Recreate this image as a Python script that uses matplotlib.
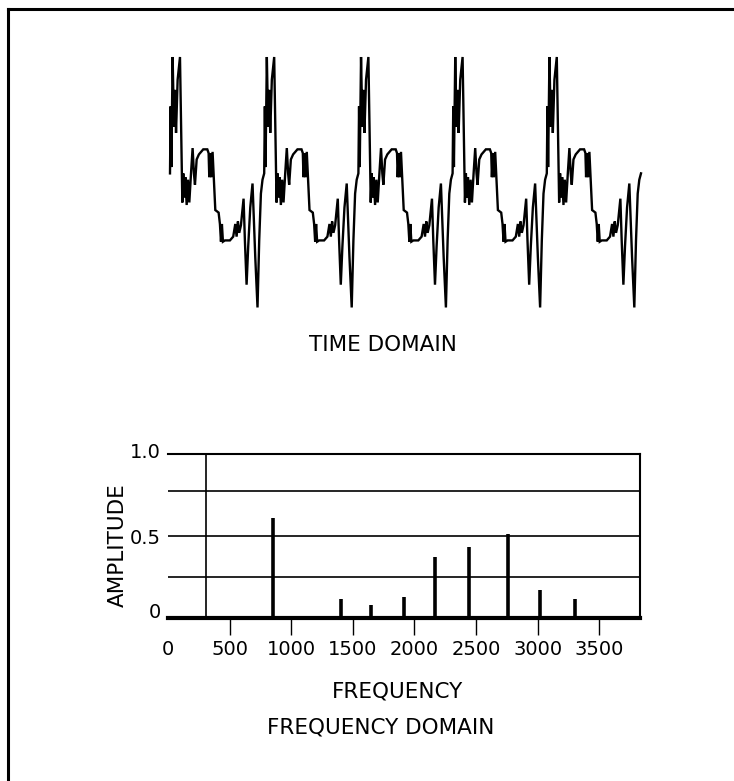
import numpy as np
import matplotlib
matplotlib.use("Agg")
import matplotlib.pyplot as plt
from matplotlib.lines import Line2D
from matplotlib.transforms import ScaledTranslation

# One cycle of the periodic waveform: phase (fraction of a cycle) and amplitude
cycle_phase = [0.000, 0.007, 0.014, 0.028, 0.042, 0.053, 0.064, 0.081, 0.106, 0.117,
               0.131, 0.141, 0.152, 0.163, 0.177, 0.191, 0.205, 0.223, 0.240, 0.254,
               0.265, 0.283, 0.307, 0.353, 0.396, 0.410, 0.417, 0.428, 0.438, 0.452,
               0.466, 0.481, 0.516, 0.530, 0.541, 0.551, 0.562, 0.583, 0.636, 0.671,
               0.693, 0.707, 0.721, 0.735, 0.753, 0.781, 0.795, 0.813, 0.830, 0.852,
               0.876, 0.890, 0.905, 0.929, 0.947, 0.965, 0.982]
cycle_amp = [0.08, 0.61, 0.13, 1.00, 0.45, 0.74, 0.40, 0.82, 1.00, 0.48,
             -0.15, 0.08, -0.11, 0.05, -0.17, 0.03, -0.15, 0.08, 0.28, 0.08,
             -0.01, 0.19, 0.23, 0.27, 0.27, 0.24, 0.05, 0.24, 0.05, 0.25,
             0.03, -0.21, -0.23, -0.32, -0.46, -0.32, -0.46, -0.45, -0.45, -0.42,
             -0.32, -0.42, -0.30, -0.39, -0.33, -0.12, -0.45, -0.80, -0.50, -0.19,
             0.00, -0.29, -0.58, -0.98, -0.45, -0.08, 0.03]
n_cycles = 5

# Spectrum: fundamental plus harmonic lines
fundamental_freq = 305
fundamental_amp = 1.0
harmonic_freqs = [854, 1400, 1651, 1914, 2165, 2443, 2755, 3020, 3303]
harmonic_amps = [0.61, 0.115, 0.08, 0.128, 0.375, 0.432, 0.51, 0.172, 0.115]

freq_ticks = [0, 500, 1000, 1500, 2000, 2500, 3000, 3500]
amp_ticks = [0, 0.5, 1.0]
amp_tick_labels = ["0", "0.5", "1.0"]
amp_grid = [0.25, 0.5, 0.775]

W, H = 734, 781
fig = plt.figure(figsize=(W / 100, H / 100), dpi=100)
fs_tick = 14
fs_label = 15.5

# ---- time domain trace ----
t = np.concatenate([np.array(cycle_phase) + k for k in range(n_cycles)] + [[n_cycles]])
y = np.concatenate([cycle_amp] * n_cycles + [[cycle_amp[0]]])
ax_t = fig.add_axes([170 / W, 1 - 310 / H, 471 / W, 253 / H])
ax_t.plot(t, y, color="black", lw=1.7, clip_on=False, solid_joinstyle="miter")
ax_t.set_xlim(0, n_cycles)
ax_t.set_ylim(-1, 1)
ax_t.axis("off")

# ---- frequency domain ----
ax_f = fig.add_axes([168 / W, 1 - 618 / H, 472 / W, 164 / H])
ax_f.set_xlim(0, 3830)
ax_f.set_ylim(0, 1.0)
for g in amp_grid:
    ax_f.axhline(g, color="black", lw=1.2, zorder=1)
ax_f.vlines([fundamental_freq], 0, [fundamental_amp], color="black", lw=1.2, zorder=2)
ax_f.vlines(harmonic_freqs, 0, harmonic_amps, color="black", lw=2.6, zorder=3)

ax_f.spines["left"].set_visible(False)
ax_f.spines["top"].set_linewidth(1.5)
ax_f.spines["right"].set_linewidth(1.5)
ax_f.spines["bottom"].set_linewidth(3.0)

ax_f.set_xticks(freq_ticks)
ax_f.set_xticklabels([str(v) for v in freq_ticks])
ax_f.tick_params(axis="x", direction="out", length=12, width=1.0, pad=4,
                 labelsize=fs_tick, colors="black")
ax_f.xaxis.get_major_ticks()[0].tick1line.set_visible(False)
ax_f.set_yticks(amp_ticks)
ax_f.set_yticklabels(amp_tick_labels)
ax_f.tick_params(axis="y", length=0, pad=5, labelsize=fs_tick)
# nudge the end labels upward a little
for lbl, dy in zip(ax_f.get_yticklabels(), [8, 0, 4]):
    lbl.set_transform(lbl.get_transform() + ScaledTranslation(0, dy / 100, fig.dpi_scale_trans))

fig.text(118 / W, 1 - 545 / H, "AMPLITUDE", rotation=90, ha="center", va="center",
         fontsize=fs_label)
fig.text(383 / W, 1 - 345 / H, "TIME DOMAIN", ha="center", va="center", fontsize=fs_label)
fig.text(398 / W, 1 - 692 / H, "FREQUENCY", ha="center", va="center", fontsize=fs_label)
fig.text(381 / W, 1 - 728 / H, "FREQUENCY DOMAIN", ha="center", va="center",
         fontsize=fs_label)

# page frame: left and top edges
fig.add_artist(Line2D([7.5 / W, 7.5 / W], [0, 1 - 8.5 / H], color="black", lw=2.2,
                      transform=fig.transFigure, solid_capstyle="projecting"))
fig.add_artist(Line2D([7.5 / W, 1], [1 - 8.5 / H, 1 - 8.5 / H], color="black", lw=2.2,
                      transform=fig.transFigure, solid_capstyle="projecting"))

fig.savefig("out.png", dpi=100)
